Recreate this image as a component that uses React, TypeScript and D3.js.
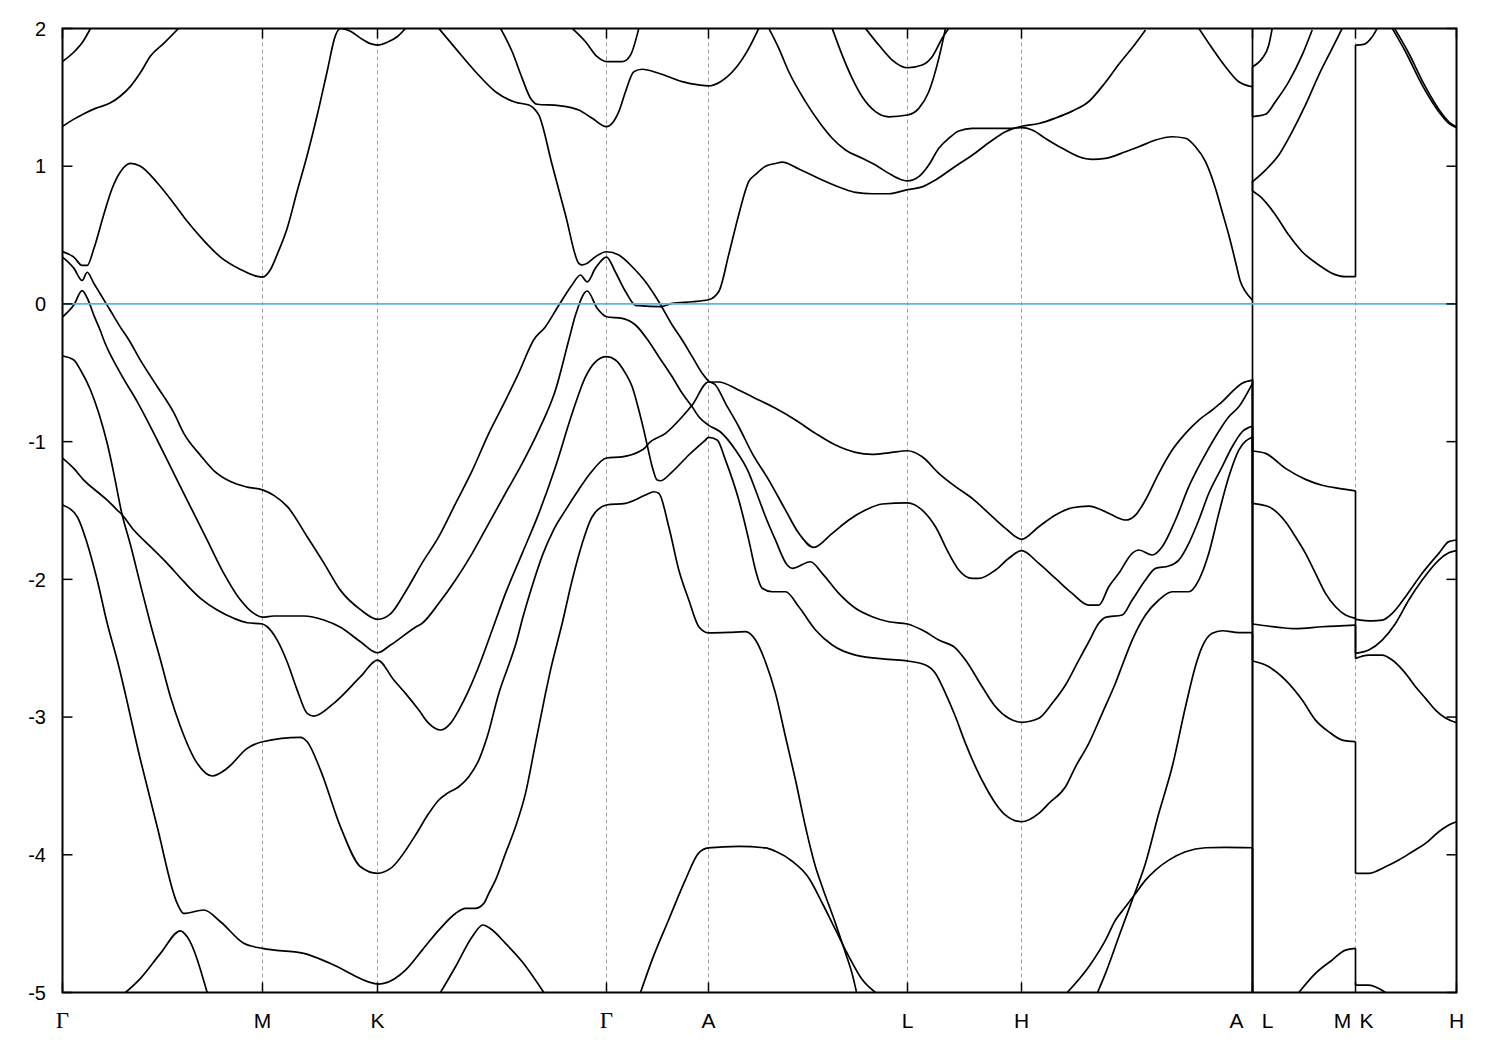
import React from 'react';
import * as d3 from 'd3';

// k = path distance (same units as the tick positions), E = energy (eV)
const kTicks = [0, 200, 315, 544, 646, 845, 959, 1190, 1293, 1394];
const kLabels = ['Γ', 'M', 'K', 'Γ', 'A', 'L', 'H', 'A|L', 'M|K', 'H'];
const eTicks = [-5, -4, -3, -2, -1, 0, 1, 2];

// ---- Γ → M → K → Γ → A → L → H → A ----
const gTop1 = [[0, 1.76], [13, 1.84], [20, 1.9], [28, 2.0]];
const gTop2 = [[0, 1.29], [11, 1.34], [21, 1.38], [33, 1.42], [48, 1.46], [58, 1.51], [68, 1.58], [78, 1.68], [88, 1.8], [101, 1.89], [116, 2.0]];
const bandC3 = [[0, 0.38], [11.3, 0.34], [19.7, 0.28], [24.7, 0.28], [31.3, 0.4], [41.3, 0.65], [49.7, 0.84], [58, 0.96], [68, 1.02], [78, 1.0], [94.7, 0.88], [111.3, 0.73], [124.7, 0.6], [141.3, 0.46], [158, 0.34], [178, 0.25], [194.7, 0.2], [200, 0.195], [208, 0.25], [214.7, 0.36], [224.7, 0.55], [234.7, 0.82], [244.7, 1.08], [254.7, 1.37], [264.7, 1.69], [273, 1.95], [278, 2.0], [288, 1.98], [298, 1.93], [308, 1.89], [315, 1.88], [324.7, 1.9], [334.7, 1.94], [343, 2.0]];
const bandC4 = [[0, 0.34], [11.3, 0.26], [19.7, 0.17], [24.7, 0.23], [31.3, 0.15], [38, 0.07], [48, -0.05], [58, -0.17], [66.3, -0.26], [78, -0.41], [94.7, -0.6], [111.3, -0.79], [121.3, -0.94], [138, -1.1], [151.3, -1.21], [168, -1.29], [184.7, -1.33], [200, -1.35], [211.3, -1.39], [224.7, -1.47], [244.7, -1.69], [261.3, -1.88], [278, -2.08], [298, -2.22], [315, -2.29], [328, -2.25], [343, -2.09], [359.7, -1.88], [376.3, -1.69], [393, -1.45], [409.7, -1.21], [426.3, -0.94], [443, -0.7], [456.3, -0.5], [471.3, -0.26], [483, -0.165], [496.3, -0.01], [509.7, 0.14], [518, 0.21], [524.7, 0.16], [533, 0.26], [544, 0.34], [553, 0.23], [563, 0.09], [573, -0.01], [576.3, -0.013], [598, -0.02], [609.7, 0.004], [629.7, 0.016], [646, 0.03], [656.3, 0.09], [666.3, 0.36], [676.3, 0.65], [686.3, 0.89], [693, 0.94], [703, 1.0], [713, 1.02], [719.7, 1.03], [736.3, 0.98], [759.7, 0.9], [779.7, 0.84], [793, 0.81], [809.7, 0.8], [826.3, 0.8], [845, 0.83], [859.7, 0.85], [873, 0.9], [893, 1.0], [909.7, 1.08], [926.3, 1.17], [943, 1.25], [959, 1.29], [976.3, 1.31], [993, 1.35], [1009.7, 1.4], [1026.3, 1.47], [1043, 1.61], [1056.3, 1.74], [1069.7, 1.86], [1083, 1.99]];
const bandC5 = [[0, -0.095], [11.3, -0.008], [19.7, 0.096], [24.7, 0.043], [31.3, -0.081], [38, -0.197], [41.3, -0.262], [58, -0.504], [74.7, -0.71], [94.7, -0.988], [111.3, -1.23], [128, -1.473], [144.7, -1.715], [161.3, -1.956], [178, -2.15], [191.3, -2.247], [200, -2.274], [211.3, -2.266], [241.3, -2.266], [261.3, -2.295], [278, -2.348], [298, -2.453], [315, -2.533], [328, -2.477], [353, -2.348], [359.7, -2.319], [376.3, -2.174], [393, -2.005], [409.7, -1.811], [426.3, -1.593], [443, -1.375], [459.7, -1.158], [476.3, -0.916], [493, -0.625], [506.3, -0.262], [513, -0.081], [524.7, 0.094], [534.7, -0.032], [544, -0.093], [559.7, -0.105], [573, -0.153], [586, -0.269], [596.3, -0.383], [609.7, -0.529], [619.7, -0.649], [629.7, -0.747], [636.3, -0.819], [646, -0.88], [658, -0.93], [673, -1.061], [686, -1.221], [693, -1.351], [703, -1.545], [713, -1.715], [724.7, -1.896], [729.7, -1.92], [748, -1.872], [759.7, -1.956], [776.3, -2.102], [793, -2.21], [809.7, -2.271], [826.3, -2.308], [845, -2.324], [859.7, -2.368], [876.3, -2.441], [893, -2.499], [903, -2.586], [919.7, -2.78], [933, -2.925], [946.3, -3.009], [959, -3.038], [976.3, -3.009], [989.7, -2.9], [1003, -2.767], [1016.3, -2.586], [1026.3, -2.453], [1036.3, -2.319], [1043, -2.276], [1059.7, -2.259], [1069.7, -2.15], [1083, -2.005], [1093, -1.92], [1106.3, -1.903], [1116.3, -1.86], [1126.3, -1.738], [1136.3, -1.569], [1146.3, -1.375], [1159.7, -1.182], [1169.7, -1.037], [1179.7, -0.928], [1190, -0.887]];
const bandC6 = [[0, -0.378], [11.3, -0.407], [18, -0.48], [28, -0.625], [36.3, -0.794], [44.7, -1.012], [51.3, -1.23], [59, -1.511], [68, -1.751], [78, -2.041], [88, -2.324], [98, -2.586], [108, -2.855], [118, -3.07], [134.7, -3.336], [149.7, -3.428], [164.7, -3.372], [184.7, -3.227], [200, -3.179], [238, -3.147], [244.7, -3.179], [258, -3.385], [278, -3.797], [298, -4.087], [315, -4.135], [328, -4.099], [353, -3.857], [366.3, -3.699], [376.3, -3.602], [384.7, -3.554], [396.3, -3.506], [406.3, -3.433], [416.3, -3.312], [424.7, -3.143], [436.3, -2.828], [448, -2.586], [453, -2.477], [461, -2.259], [470, -2.041], [480, -1.824], [491, -1.642], [503, -1.497], [516, -1.351], [528, -1.228], [544, -1.119], [559.7, -1.11], [576.3, -1.073], [583, -1.041], [586.3, -1.012], [603, -0.94], [619.7, -0.819], [629.7, -0.734], [646, -0.567], [656, -0.567], [676, -0.625], [693, -0.686], [713, -0.758], [733, -0.843], [753, -0.94], [773, -1.025], [793, -1.078], [809.7, -1.092], [826.3, -1.081], [845, -1.066], [859.7, -1.11], [876.3, -1.23], [893, -1.327], [909.7, -1.412], [926.3, -1.521], [943, -1.63], [959, -1.709], [976.3, -1.618], [993, -1.533], [1009.7, -1.48], [1026.3, -1.468], [1043, -1.509], [1053, -1.545], [1063, -1.569], [1073, -1.533], [1083, -1.424], [1096.3, -1.23], [1109.7, -1.061], [1123, -0.94], [1136.3, -0.843], [1149.7, -0.77], [1159.7, -0.71], [1169.7, -0.637], [1179.7, -0.576], [1190, -0.553]];
const bandC7 = [[0, -1.119], [11.3, -1.194], [21.3, -1.279], [34.7, -1.364], [44.7, -1.424], [54.7, -1.497], [59, -1.526], [71.3, -1.642], [88, -1.763], [104.7, -1.884], [121.3, -2.017], [138, -2.138], [154.7, -2.223], [171.3, -2.283], [184.7, -2.315], [200, -2.324], [204.7, -2.344], [214.7, -2.441], [224.7, -2.6], [234.7, -2.804], [244.7, -2.973], [251.3, -2.993], [271.3, -2.9], [298, -2.707], [315, -2.586], [331.3, -2.731], [343, -2.828], [356.3, -2.949], [366.3, -3.046], [378, -3.094], [388, -3.046], [396.3, -2.949], [406.3, -2.804], [418, -2.6], [429.7, -2.368], [443, -2.102], [459.7, -1.811], [476.3, -1.521], [493, -1.182], [509.7, -0.794], [523, -0.529], [533, -0.42], [544, -0.383], [553, -0.407], [563, -0.504], [569.7, -0.601], [576.3, -0.77], [581.3, -0.916], [584.7, -1.025], [589.7, -1.182], [594.7, -1.279], [598, -1.284], [609.7, -1.219], [626.3, -1.097], [643, -0.988], [646, -0.969], [654.7, -0.988], [663, -1.134], [676.3, -1.424], [686.3, -1.715], [693, -1.932], [699.7, -2.065], [709.7, -2.09], [723, -2.09], [736.3, -2.199], [753, -2.368], [769.7, -2.477], [793, -2.55], [826.3, -2.581], [845, -2.593], [863, -2.622], [873, -2.683], [883, -2.828], [893, -2.998], [903, -3.191], [913, -3.361], [923, -3.506], [933, -3.627], [943, -3.712], [959, -3.76], [976.3, -3.699], [986.3, -3.627], [1003, -3.506], [1013, -3.361], [1026.3, -3.191], [1039.7, -2.973], [1053, -2.753], [1061, -2.6], [1069.7, -2.441], [1083, -2.259], [1096.3, -2.15], [1109.7, -2.09], [1126.3, -2.09], [1136.3, -2.005], [1146.3, -1.811], [1156.3, -1.521], [1166.3, -1.255], [1176.3, -1.061], [1190, -0.967]];
const bandC8 = [[0, -1.46], [14.7, -1.545], [24.7, -1.739], [34.7, -2.005], [44.7, -2.319], [54.7, -2.586], [78, -3.312], [94.7, -3.797], [114.7, -4.353], [121.3, -4.426], [141.3, -4.401], [158, -4.486], [181.3, -4.643], [200, -4.68], [241.3, -4.716], [268, -4.789], [311.3, -4.934], [315, -4.939], [321.3, -4.934], [343, -4.837], [359.7, -4.692], [376.3, -4.547], [393, -4.426], [403, -4.389], [413, -4.389], [421.3, -4.353], [426.3, -4.28], [433, -4.184], [443, -3.99], [453, -3.797], [463, -3.554], [473, -3.191], [483, -2.828], [488, -2.659], [499.7, -2.319], [509.7, -2.005], [519.7, -1.739], [529.7, -1.545], [544, -1.46], [563, -1.448], [583, -1.388], [591.3, -1.364], [596.3, -1.375], [606.3, -1.618], [616.3, -1.932], [626.3, -2.15], [636.3, -2.344], [646, -2.388], [666.3, -2.385], [683, -2.38], [693, -2.441], [703, -2.6], [713, -2.828], [723, -3.143], [733, -3.457], [743, -3.797], [753, -4.087], [759.7, -4.232], [773, -4.498], [782, -4.692], [790, -4.874], [794, -4.997]];
const bandX = [[376.3, 2.001], [393, 1.856], [413, 1.686], [433, 1.541], [453, 1.464], [466.3, 1.444], [471.3, 1.42], [476.3, 1.372], [489.7, 1.009], [503, 0.646], [516.3, 0.295], [519.7, 0.283], [524.7, 0.295], [533, 0.343], [544, 0.379], [556.3, 0.355], [569.7, 0.27], [583, 0.161], [596.3, 0.016], [609.7, -0.153], [619.7, -0.262], [629.7, -0.383], [639.7, -0.504], [646, -0.56], [653, -0.589], [663, -0.722], [676.3, -0.892], [689.7, -1.085], [706.3, -1.279], [723, -1.497], [736.3, -1.666], [751.3, -1.768], [769.7, -1.666], [786.3, -1.569], [803, -1.497], [819.7, -1.453], [845, -1.444], [859.7, -1.497], [873, -1.618], [886.3, -1.811], [896.3, -1.932], [909.7, -1.993], [916.3, -1.993], [933, -1.932], [946.3, -1.847], [959, -1.792], [976.3, -1.884], [993, -1.993], [1009.7, -2.102], [1026.3, -2.187], [1036.3, -2.187], [1046.3, -2.054], [1056.3, -1.956], [1069.7, -1.811], [1076.3, -1.787], [1089.7, -1.823], [1099.7, -1.763], [1113, -1.569], [1126.3, -1.327], [1139.7, -1.134], [1153, -0.964], [1166.3, -0.819], [1176.3, -0.747], [1190, -0.577]];
const bandY = [[438, 2.001], [449.7, 1.831], [459.7, 1.638], [468, 1.494], [474.7, 1.45], [496.3, 1.44], [516.3, 1.408], [529.7, 1.348], [544, 1.287], [549.7, 1.312], [556.3, 1.396], [563, 1.541], [571.3, 1.686], [579.7, 1.704], [596.3, 1.675], [619.7, 1.614], [636.3, 1.59], [646, 1.583], [658, 1.614], [673, 1.711], [686.3, 1.856], [696.3, 2.001]];
const gammaDip = [[509.7, 2.001], [523, 1.904], [534.7, 1.795], [544, 1.759], [559.7, 1.759], [568, 1.807], [576.3, 2.001]];
const bandLH1 = [[706.3, 2.001], [716.3, 1.856], [726.3, 1.686], [743, 1.469], [756.3, 1.324], [769.7, 1.203], [783, 1.118], [799.7, 1.058], [813, 1.009], [826.3, 0.948], [839.7, 0.9], [845, 0.893], [856.3, 0.924], [866.3, 1.009], [876.3, 1.13], [886.3, 1.203], [896.3, 1.256], [909.7, 1.275], [926.3, 1.275], [946.3, 1.275], [959, 1.28], [969.7, 1.263], [983, 1.202], [999.7, 1.13], [1016.3, 1.069], [1029.7, 1.05], [1043, 1.057], [1063, 1.105], [1076.3, 1.141], [1093, 1.19], [1109.7, 1.214], [1123, 1.203], [1133, 1.141], [1143, 1.033], [1153, 0.839], [1159.7, 0.669], [1166.3, 0.5], [1173, 0.306], [1178, 0.161], [1183, 0.089], [1190, 0.028]];
const bandLH2 = [[769.7, 2.001], [779.7, 1.807], [789.7, 1.638], [799.7, 1.504], [813, 1.396], [826.3, 1.359], [845, 1.372], [856.3, 1.42], [866.3, 1.541], [876.3, 1.783], [883, 2.001]];
const bandLH3 = [[803, 2.001], [816.3, 1.88], [829.7, 1.771], [845, 1.715], [859.7, 1.735], [869.7, 1.795], [879.7, 1.929], [886.3, 2.001]];
const bandHA = [[1136.3, 2.001], [1149.7, 1.856], [1163, 1.722], [1176.3, 1.613], [1190, 1.577]];
const lowGM = [[63, -5.0], [78, -4.897], [98, -4.716], [118, -4.552], [124.7, -4.596], [144.7, -5.0]];
const lowKG = [[378, -5.0], [393, -4.813], [409.7, -4.595], [420.3, -4.51], [429.7, -4.546], [443, -4.643], [459.7, -4.777], [481.3, -5.0]];
const lowA1 = [[578, -5.0], [589.7, -4.761], [606.3, -4.47], [623, -4.18], [636.3, -3.986], [646, -3.95], [676.3, -3.939], [703, -3.95], [713, -3.975], [729.7, -4.047], [746.3, -4.168], [759.7, -4.35], [773, -4.544], [786.3, -4.737], [799.7, -4.906], [813, -5.0]];
const lowA2 = [[1004.7, -5.0], [1026.3, -4.813], [1043, -4.62], [1053, -4.474], [1063, -4.378], [1073, -4.281], [1083, -4.184], [1093, -4.111], [1106.3, -4.039], [1123, -3.978], [1143, -3.949], [1163, -3.946], [1190, -3.949]];
const lowA3 = [[1035, -5.0], [1043, -4.861], [1056.3, -4.595], [1069.7, -4.329], [1083, -4.062], [1096.3, -3.699], [1109.7, -3.361], [1123, -2.925], [1133, -2.629], [1139.7, -2.489], [1149.7, -2.392], [1159.7, -2.373], [1176.3, -2.387], [1190, -2.387]];

// ---- L → M ----
const lm1 = [[1190, 1.723], [1199.7, 1.784], [1206.3, 1.88], [1209.7, 2.001]];
const lm2 = [[1190, 1.36], [1203, 1.377], [1213, 1.469], [1226.3, 1.614], [1239.7, 1.808], [1249.7, 1.989]];
const lm3 = [[1190, 0.888], [1203, 0.972], [1216.3, 1.081], [1229.7, 1.251], [1243, 1.445], [1256.3, 1.662], [1269.7, 1.856], [1279.7, 2.001]];
const lm4 = [[1190, 0.82], [1199.7, 0.767], [1213, 0.646], [1226.3, 0.5], [1239.7, 0.379], [1256.3, 0.283], [1269.7, 0.222], [1283, 0.198], [1293, 0.198]];
const lm5 = [[1190, -1.068], [1203, -1.085], [1223, -1.194], [1243, -1.274], [1259.7, -1.317], [1276.3, -1.339], [1293, -1.357]];
const lm6 = [[1190, -1.448], [1206.3, -1.473], [1223, -1.582], [1233, -1.691], [1243, -1.811], [1253, -1.956], [1263, -2.102], [1273, -2.199], [1283, -2.259], [1293, -2.283]];
const lm7 = [[1190, -2.324], [1216.3, -2.348], [1233, -2.358], [1259.7, -2.344], [1293, -2.332]];
const lm8 = [[1190, -2.593], [1203, -2.622], [1223, -2.731], [1239.7, -2.876], [1253, -3.022], [1266.3, -3.107], [1279.7, -3.167], [1293, -3.179]];
const lm9 = [[1236.3, -5.0], [1253, -4.861], [1269.7, -4.764], [1283, -4.692], [1293, -4.68]];

// ---- K → H ----
const kh1 = [[1293, 1.88], [1301.3, 1.885], [1309.7, 1.94], [1314.7, 2.001]];
const kh2 = [[1329.7, 2.001], [1343, 1.831], [1359.7, 1.589], [1376.3, 1.396], [1386.3, 1.312], [1394, 1.28]];
const kh3 = [[1332, 2.001], [1345.5, 1.831], [1362, 1.589], [1378, 1.396], [1387.5, 1.315], [1394, 1.287]];
const kh4 = [[1293, -2.29], [1309.7, -2.301], [1319.7, -2.296], [1329.7, -2.247], [1343, -2.126], [1359.7, -1.956], [1376.3, -1.811], [1386.3, -1.726], [1394, -1.714]];
const kh5 = [[1293, -2.537], [1306.3, -2.513], [1319.7, -2.441], [1333, -2.32], [1346.3, -2.15], [1359.7, -2.005], [1376.3, -1.86], [1386.3, -1.807], [1394, -1.792]];
const kh6 = [[1293, -2.574], [1306.3, -2.55], [1319.7, -2.55], [1329.7, -2.586], [1343, -2.683], [1353, -2.78], [1363, -2.864], [1373, -2.949], [1383, -3.007], [1394, -3.041]];
const kh7 = [[1293, -4.135], [1306.3, -4.135], [1323, -4.087], [1336.3, -4.038], [1349.7, -3.978], [1363, -3.917], [1376.3, -3.833], [1386.3, -3.784], [1394, -3.76]];
const kh8 = [[1293, -4.946], [1306.3, -4.946], [1323, -5.0]];

// band values just before / after the two path breaks (drawn as vertical jumps)
const jumpsAL = [[2.5, 1.36], [1.58, 1.72], [1.58, 0.82], [0.03, 0.89], [0.03, -1.07], [-0.55, -1.45], [-0.55, -2.33], [-0.89, -2.59], [-0.96, -5.5], [-2.39, -5.5], [-3.95, -5.5]];
const jumpsMK = [[0.198, 1.88], [-1.357, -2.29], [-2.283, -2.537], [-2.332, -2.574], [-3.179, -4.135], [-4.68, -4.946]];

const bands = [
  gTop1, gTop2, bandC3, bandC4, bandC5, bandC6, bandC7, bandC8, bandX, bandY, gammaDip,
  bandLH1, bandLH2, bandLH3, bandHA, lowGM, lowKG, lowA1, lowA2, lowA3,
  lm1, lm2, lm3, lm4, lm5, lm6, lm7, lm8, lm9,
  kh1, kh2, kh3, kh4, kh5, kh6, kh7, kh8,
];

const L = 62.5, R = 1456.5, T = 28.5, B = 992.5;

const App = () => {
  const x = d3.scaleLinear().domain([0, 1394]).range([L, R]);
  const y = d3.scaleLinear().domain([-5, 2]).range([B, T]);
  const line = d3.line<number[]>()
    .x(d => x(d[0]))
    .y(d => y(d[1]))
    .curve(d3.curveMonotoneX);

  const kAL = kTicks[7], kMK = kTicks[8];
  const font = '"Liberation Sans", Arial, sans-serif';

  return (
    <svg width={1500} height={1050} style={{ position: 'absolute', left: 0, top: 0, background: '#fff' }}>
      <defs>
        <clipPath id="plot">
          <rect x={L} y={T} width={R - L} height={B - T} />
        </clipPath>
      </defs>
      <rect x={0} y={0} width={1500} height={1050} fill="#fff" />

      {/* dashed grid at the high symmetry points */}
      {kTicks.slice(1, -1).map((k, i) => (
        <line key={'g' + i} x1={x(k)} x2={x(k)} y1={T} y2={B}
          stroke="#a0a0a0" strokeWidth={1} strokeDasharray="4,3" />
      ))}

      <g clipPath="url(#plot)" fill="none" stroke="#000" strokeWidth={1.7} strokeLinejoin="round">
        {bands.map((b, i) => <path key={'b' + i} d={line(b) || ''} />)}
        {jumpsAL.map((j, i) => (
          <line key={'ja' + i} x1={x(kAL)} x2={x(kAL)} y1={y(j[0])} y2={y(j[1])} />
        ))}
        {jumpsMK.map((j, i) => (
          <line key={'jm' + i} x1={x(kMK)} x2={x(kMK)} y1={y(j[0])} y2={y(j[1])} />
        ))}
      </g>

      {/* Fermi level */}
      <line x1={L} x2={R} y1={y(0)} y2={y(0)} stroke="#56b4e9" strokeWidth={1.7} />

      {/* border */}
      <rect x={L} y={T} width={R - L} height={B - T} fill="none" stroke="#000" strokeWidth={2} />

      {/* y ticks */}
      {eTicks.map(e => (
        <g key={'y' + e}>
          <line x1={L} x2={L + 10} y1={y(e)} y2={y(e)} stroke="#000" strokeWidth={1.5} />
          <line x1={R} x2={R - 10} y1={y(e)} y2={y(e)} stroke="#000" strokeWidth={1.5} />
          <text x={46} y={y(e)} dy="0.36em" textAnchor="end" fontFamily={font} fontSize={20}>{e}</text>
        </g>
      ))}

      {/* x ticks */}
      {kTicks.map((k, i) => (
        <g key={'x' + i}>
          <line x1={x(k)} x2={x(k)} y1={T} y2={T + 10} stroke="#000" strokeWidth={1.5} />
          <line x1={x(k)} x2={x(k)} y1={B} y2={B - 10} stroke="#000" strokeWidth={1.5} />
        </g>
      ))}
      {kTicks.map((k, i) => {
        const lab = kLabels[i];
        if (lab.includes('|')) {
          const [a, b] = lab.split('|');
          const off = a === 'A' ? [-16, 15] : [-13, 11];
          return (
            <g key={'l' + i} fontFamily={font} fontSize={21} textAnchor="middle">
              <text x={x(k) + off[0]} y={1028}>{a}</text>
              <text x={x(k) + off[1]} y={1028}>{b}</text>
            </g>
          );
        }
        const isGamma = lab === 'Γ';
        return (
          <text key={'l' + i} x={x(k)} y={1028} textAnchor="middle"
            fontFamily={isGamma ? '"Liberation Serif", "DejaVu Serif", serif' : font}
            fontSize={isGamma ? 23 : 21}>{lab}</text>
        );
      })}
    </svg>
  );
};

export default App;
